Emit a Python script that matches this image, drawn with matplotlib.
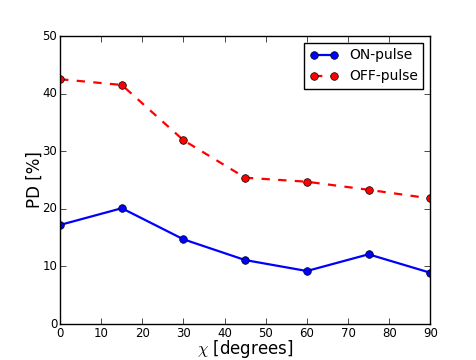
import matplotlib
matplotlib.use("Agg")
from matplotlib import pyplot as plt

chi = [0, 15, 30, 45, 60, 75, 90]
pd_on = [17.2, 20.1, 14.7, 11.1, 9.2, 12.1, 8.9]
pd_off = [42.5, 41.5, 31.9, 25.4, 24.7, 23.3, 21.8]

plt.style.use('classic')
fig = plt.figure(figsize=(4.77, 3.6), dpi=100)
ax = fig.add_axes([0.126, 0.1, 0.776, 0.8])

ax.plot(chi, pd_on, 'b-o', lw=1.6, ms=5.5, label='ON-pulse')
ax.plot(chi, pd_off, 'r--o', lw=1.6, ms=5.5, label='OFF-pulse')

ax.set_xlim(0, 90)
ax.set_ylim(0, 50)
ax.tick_params(labelsize=8.5, pad=2)
ax.set_xlabel(r'$\chi$ [degrees]', fontsize=12, labelpad=-1)
ax.set_ylabel('PD [%]', fontsize=12, labelpad=-1)
ax.legend(loc='upper right', numpoints=2, fontsize=10)

fig.savefig('out.png', dpi=100)
